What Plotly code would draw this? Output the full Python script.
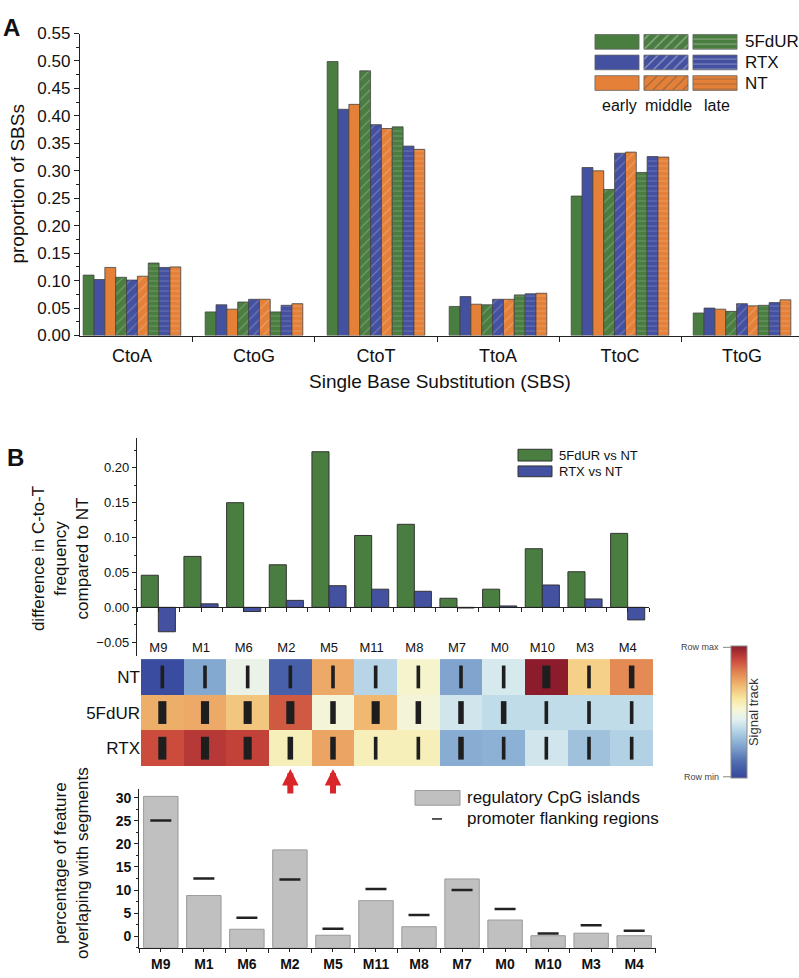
import plotly.graph_objects as go

W, H = 799, 978
def fx(px): return px / W
def fy(py): return 1 - py / H

FONT = "Liberation Sans, Arial, sans-serif"
NARROW = "Liberation Sans Narrow, Arial Narrow, Liberation Sans, Arial, sans-serif"
AXC = "#222222"

# ---------------- Panel A data ----------------
sbs_types = ["CtoA", "CtoG", "CtoT", "TtoA", "TtoC", "TtoG"]
fdur_early  = [0.110, 0.043, 0.499, 0.053, 0.254, 0.041]
rtx_early   = [0.102, 0.056, 0.412, 0.071, 0.306, 0.050]
nt_early    = [0.124, 0.048, 0.421, 0.057, 0.300, 0.048]
fdur_middle = [0.106, 0.061, 0.482, 0.056, 0.266, 0.044]
rtx_middle  = [0.101, 0.066, 0.384, 0.066, 0.332, 0.058]
nt_middle   = [0.108, 0.066, 0.377, 0.066, 0.334, 0.054]
fdur_late   = [0.132, 0.043, 0.380, 0.074, 0.297, 0.055]
rtx_late    = [0.124, 0.055, 0.345, 0.076, 0.326, 0.060]
nt_late     = [0.125, 0.058, 0.339, 0.077, 0.325, 0.065]
treatments = ["5FdUR", "RTX", "NT"]
phases = ["early", "middle", "late"]

# ---------------- Panel B data ----------------
segments = ["M9", "M1", "M6", "M2", "M5", "M11", "M8", "M7", "M0", "M10", "M3", "M4"]
fdur_vs_nt = [0.046, 0.073, 0.150, 0.061, 0.223, 0.103, 0.119, 0.013, 0.026, 0.084, 0.051, 0.106]
rtx_vs_nt  = [-0.035, 0.005, -0.006, 0.010, 0.031, 0.026, 0.023, -0.001, 0.002, 0.032, 0.012, -0.018]

heat_rows  = ["NT", "5FdUR", "RTX"]
heat_nt    = [0.02, 0.25, 0.47, 0.08, 0.73, 0.36, 0.53, 0.24, 0.42, 1.00, 0.65, 0.79]
heat_5fdur = [0.72, 0.73, 0.67, 0.87, 0.51, 0.70, 0.51, 0.41, 0.38, 0.38, 0.38, 0.38]
heat_rtx   = [0.89, 0.93, 0.91, 0.56, 0.74, 0.56, 0.56, 0.26, 0.27, 0.41, 0.31, 0.35]
mark_nt    = [1, 1, 1, 1, 1, 1, 1, 1, 1, 3, 1, 2]
mark_5fdur = [3, 3, 3, 3, 2, 3, 2, 2, 2, 1, 1, 1]
mark_rtx   = [3, 3, 3, 2, 2, 1, 1, 2, 1, 1, 1, 1]
highlighted = ["M2", "M5"]

cpg_islands       = [30.3, 8.8, 1.5, 18.7, 0.2, 7.7, 2.05, 12.4, 3.5, 0.1, 0.65, 0.1]
promoter_flanking = [25.1, 12.5, 4.0, 12.3, 1.6, 10.25, 4.6, 10.0, 5.9, 0.6, 2.35, 1.2]

# ---------------- styles ----------------
GREEN, BLUE, ORANGE = "#4a7d40", "#4450a0", "#e48038"
tcolor = {"5FdUR": GREEN, "RTX": BLUE, "NT": ORANGE}
pshape = {"early": "", "middle": "/", "late": "-"}
psize = {"early": 6, "middle": 7, "late": 5}

fig = go.Figure()

seriesA = {
    ("5FdUR", "early"): fdur_early, ("RTX", "early"): rtx_early, ("NT", "early"): nt_early,
    ("5FdUR", "middle"): fdur_middle, ("RTX", "middle"): rtx_middle, ("NT", "middle"): nt_middle,
    ("5FdUR", "late"): fdur_late, ("RTX", "late"): rtx_late, ("NT", "late"): nt_late,
}
xA = list(range(len(sbs_types)))
for ph in phases:
    for tr in treatments:
        fig.add_trace(go.Bar(
            x=xA, y=seriesA[(tr, ph)], name=f"{tr} {ph}",
            marker=dict(color=tcolor[tr], line=dict(color="#444", width=0.8),
                        pattern=dict(shape=pshape[ph], fillmode="overlay",
                                     fgcolor="rgba(255,255,255,0.55)", size=psize[ph], solidity=0.15)),
            xaxis="x", yaxis="y", showlegend=False))

# Panel A legend (pattern swatches on a hidden axis)
lx, lb, ly, lc, ls, lz = [], [], [], [], [], []
for r, tr in enumerate(treatments):
    for c, ph in enumerate(phases):
        lx.append(c); lb.append(r + 0.143); ly.append(0.714)
        lc.append(tcolor[tr]); ls.append(pshape[ph]); lz.append(psize[ph])
fig.add_trace(go.Bar(x=lx, y=ly, base=lb, width=0.9,
                     marker=dict(color=lc, line=dict(color="#666", width=0.8),
                                 pattern=dict(shape=ls, fillmode="overlay",
                                              fgcolor="rgba(255,255,255,0.55)", size=lz, solidity=0.15)),
                     xaxis="x5", yaxis="y5", showlegend=False, hoverinfo="skip"))

# ---------------- Panel B top ----------------
xB = list(range(len(segments)))
fig.add_trace(go.Bar(x=xB, y=fdur_vs_nt, name="5FdUR vs NT",
                     marker=dict(color=GREEN, line=dict(color="#333", width=1)),
                     xaxis="x2", yaxis="y2", showlegend=False))
fig.add_trace(go.Bar(x=xB, y=rtx_vs_nt, name="RTX vs NT",
                     marker=dict(color=BLUE, line=dict(color="#333", width=1)),
                     xaxis="x2", yaxis="y2", showlegend=False))

# ---------------- Heatmap ----------------
cscale = [[0.0, "#36459b"], [0.12, "#4f6db0"], [0.25, "#84a9d0"], [0.37, "#bcd9e8"],
          [0.45, "#e6f2f0"], [0.52, "#f6f6d4"], [0.6, "#f8e8a0"], [0.7, "#f0b870"],
          [0.8, "#e38552"], [0.9, "#c8463b"], [1.0, "#8c1c2c"]]
fig.add_trace(go.Heatmap(
    z=[heat_nt, heat_5fdur, heat_rtx], x=xB, y=[0, 1, 2], zmin=0, zmax=1,
    colorscale=cscale, xaxis="x3", yaxis="y3", hoverinfo="skip",
    colorbar=dict(thickness=16, len=132, lenmode="pixels", x=fx(731), xanchor="left",
                  y=fy(717), yanchor="middle", xpad=0, ypad=0, showticklabels=False,
                  ticks="", outlinewidth=1, outlinecolor="#8a8a8a")))

wmap = {1: 0.085, 2: 0.13, 3: 0.19}
mx, mb, my, mw = [], [], [], []
for r, marks in enumerate([mark_nt, mark_5fdur, mark_rtx]):
    for i, lev in enumerate(marks):
        mx.append(i); mb.append(r - 0.32); my.append(0.64); mw.append(wmap[lev])
fig.add_trace(go.Bar(x=mx, y=my, base=mb, width=mw, marker=dict(color="#1e1e1e", line=dict(width=0)),
                     xaxis="x3", yaxis="y3", showlegend=False, hoverinfo="skip"))

# ---------------- Panel C ----------------
C_FLOOR = -2.5
fig.add_trace(go.Bar(x=xB, y=[v - C_FLOOR for v in cpg_islands], base=C_FLOOR, width=0.8,
                     marker=dict(color="#c0c0c0", line=dict(color="#9a9a9a", width=1)),
                     xaxis="x4", yaxis="y4", showlegend=False))
fig.add_trace(go.Scatter(x=xB, y=promoter_flanking, mode="markers",
                         marker=dict(symbol="line-ew", size=15, line=dict(color="#222", width=2.5)),
                         xaxis="x4", yaxis="y4", showlegend=False))

# ---------------- Layout ----------------
yB_rng = [-0.07, 0.242]
yB_dom = [fy(660), fy(438)]
x2_pos = yB_dom[0] + (0 - yB_rng[0]) / (yB_rng[1] - yB_rng[0]) * (yB_dom[1] - yB_dom[0])

tickfA = dict(family=FONT, size=17, color="#111")
tickfB = dict(family=FONT, size=13, color="#111")
boundaries = [i + 0.5 for i in range(-1, 12)]

fig.update_layout(
    width=W, height=H, margin=dict(l=0, r=0, t=0, b=0),
    paper_bgcolor="white", plot_bgcolor="rgba(0,0,0,0)",
    barmode="group", bargap=0.2, bargroupgap=0, showlegend=False,
    font=dict(family=FONT, color="#111"),
    xaxis=dict(domain=[fx(80), fx(799)], range=[-0.426, 5.467], anchor="y",
               tickvals=xA, ticktext=sbs_types, ticks="", showline=True, linecolor=AXC, linewidth=1.3,
               minor=dict(tickvals=[i + 0.5 for i in range(-1, 6)], ticks="outside", ticklen=5,
                          tickcolor=AXC),
               tickfont=dict(family=NARROW, size=18, color="#111"), ticklabelstandoff=4,
               showgrid=False, zeroline=False),
    yaxis=dict(domain=[fy(333), fy(25)], range=[0, 0.55], anchor="x", dtick=0.05, tickformat=".2f",
               ticks="outside", ticklen=5, tickcolor=AXC, showline=True, linecolor=AXC, linewidth=1.3,
               minor=dict(dtick=0.025, ticks="outside", ticklen=3, tickcolor=AXC),
               tickfont=tickfA, showgrid=False, zeroline=False),
    xaxis5=dict(domain=[fx(592.5), fx(739.5)], range=[-0.5, 2.5], anchor="y5", visible=False),
    yaxis5=dict(domain=[fy(86), fy(23)], range=[3, 0], anchor="x5", visible=False),
    xaxis2=dict(domain=[fx(137), fx(649)], range=[-0.5, 11.5], anchor="free", position=x2_pos,
                tickvals=xB, ticktext=segments, ticks="outside", ticklen=4, tickcolor=AXC,
                minor=dict(tickvals=boundaries, ticks="outside", ticklen=4, tickcolor=AXC),
                showline=True, linecolor=AXC, linewidth=1.3, tickfont=tickfB, ticklabelstandoff=24,
                showgrid=False, zeroline=False),
    yaxis2=dict(domain=yB_dom, range=yB_rng, anchor="x2", dtick=0.05, tick0=0, tickformat=".2f",
                ticks="outside", ticklen=4, tickcolor=AXC, showline=True, linecolor=AXC, linewidth=1.3,
                minor=dict(dtick=0.025, tick0=0, ticks="outside", ticklen=2, tickcolor=AXC),
                tickfont=tickfB, showgrid=False, zeroline=False),
    xaxis3=dict(domain=[fx(141), fx(653)], range=[-0.5, 11.5], anchor="y3", visible=False),
    yaxis3=dict(domain=[fy(772), fy(663)], range=[2.5, -0.5], anchor="x3",
                tickvals=[0, 1, 2], ticktext=heat_rows, ticks="", showline=False, showgrid=False,
                zeroline=False, tickfont=dict(family=FONT, size=17, color="#111")),
    xaxis4=dict(domain=[fx(139.3), fx(655.7)], range=[-0.5, 11.5], anchor="y4",
                tickvals=xB, ticktext=segments, ticks="outside", ticklen=3, tickcolor=AXC,
                minor=dict(tickvals=boundaries, ticks="outside", ticklen=4, tickcolor=AXC),
                showline=True, linecolor=AXC, linewidth=1.3,
                tickfont=dict(family=FONT, size=14, color="#111", weight="bold"),
                showgrid=False, zeroline=False),
    yaxis4=dict(domain=[fy(957.3), fy(795)], range=[C_FLOOR, 32], anchor="x4", dtick=5, tick0=0,
                ticks="outside", ticklen=4, tickcolor=AXC, showline=True, linecolor=AXC, linewidth=1.3,
                minor=dict(dtick=2.5, tick0=0, ticks="outside", ticklen=2, tickcolor=AXC),
                tickfont=dict(family=FONT, size=14, color="#111", weight="bold"),
                showgrid=False, zeroline=False),
)

ann = []
def A(text, x, y, size, xanchor="center", yanchor="middle", angle=0, bold=False, color="#111", family=FONT, align="center"):
    t = f"<b>{text}</b>" if bold else text
    ann.append(dict(text=t, x=x, y=y, xref="paper", yref="paper", showarrow=False,
                    xanchor=xanchor, yanchor=yanchor, textangle=angle, align=align,
                    font=dict(family=family, size=size, color=color)))

A("A", fx(1), fy(3), 24, "left", "top", bold=True)
A("B", fx(5), fy(442), 24, "left", "top", bold=True)
A("proportion of SBSs", fx(18), fy(179), 19, angle=-90)
A("Single Base Substitution (SBS)", fx(440), fy(380), 19, family=NARROW)
# panel A legend labels
for r, tr in enumerate(treatments):
    A(tr, fx(743), fy(33.5 + 21 * r), 17, "left")
for c, ph in enumerate(phases):
    A(ph, fx(619 + 49 * c), fy(98), 16)
# panel B
A("difference in C-to-T<br>frequency<br>compared to NT", fx(60), fy(561), 17, angle=-90)
A("5FdUR vs NT", fx(557), fy(455), 13, "left")
A("RTX vs NT", fx(557), fy(471.5), 13, "left")
# colorbar labels
A("Row max", fx(721), fy(651), 9, "right", color="#444")
A("Row min", fx(721), fy(783), 9, "right", color="#444")
A("Signal track", fx(753), fy(717), 13, angle=-90, color="#333")
# panel C
A("percentage of feature<br>overlaping with segments", fx(71), fy(871), 17, angle=-90)
A("regulatory CpG islands", fx(465), fy(804), 17, "left")
A("promoter flanking regions", fx(465), fy(826), 17, "left")

# red arrows under highlighted segments
for s in highlighted:
    ann.append(dict(x=segments.index(s), y=fy(775), xref="x3", yref="paper", text="",
                    showarrow=True, ax=0, ay=26, axref="pixel", ayref="pixel",
                    arrowhead=2, arrowsize=0.55, arrowwidth=6, arrowcolor="#d9262a", standoff=0))
fig.update_layout(annotations=ann)

shapes = [
    dict(type="rect", xref="paper", yref="paper", x0=fx(518), x1=fx(552), y0=fy(461), y1=fy(449),
         fillcolor=GREEN, line=dict(color="#333", width=1)),
    dict(type="rect", xref="paper", yref="paper", x0=fx(518), x1=fx(552), y0=fy(477), y1=fy(466),
         fillcolor=BLUE, line=dict(color="#333", width=1)),
    dict(type="rect", xref="paper", yref="paper", x0=fx(415), x1=fx(460), y0=fy(812), y1=fy(797),
         fillcolor="#c0c0c0", line=dict(color="#9a9a9a", width=1)),
    dict(type="line", xref="paper", yref="paper", x0=fx(432), x1=fx(442), y0=fy(826), y1=fy(826),
         line=dict(color="#222", width=1.5)),
    dict(type="line", xref="paper", yref="paper", x0=fx(723), x1=fx(731), y0=fy(651), y1=fy(651),
         line=dict(color="#888", width=1)),
    dict(type="line", xref="paper", yref="paper", x0=fx(723), x1=fx(731), y0=fy(783), y1=fy(783),
         line=dict(color="#888", width=1)),
]
fig.update_layout(shapes=shapes)

fig.write_html("out.html")
